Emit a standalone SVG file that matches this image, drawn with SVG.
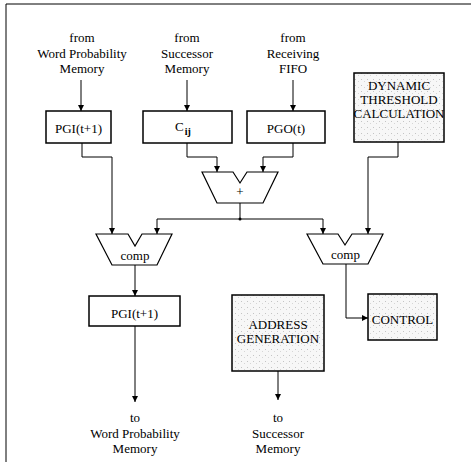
<svg xmlns="http://www.w3.org/2000/svg" width="471" height="462" viewBox="0 0 471 462">
<style>
text{font-family:"Liberation Serif","Times New Roman",serif;font-size:13px;fill:#000;text-anchor:middle}
.box{fill:#fff;stroke:#000;stroke-width:1.5}
.shade{fill:url(#dots);stroke:#000;stroke-width:1.5}
.op{fill:#fff;stroke:#000;stroke-width:1.2;stroke-linejoin:miter}
.ln{fill:none;stroke:#000;stroke-width:1}
.ar{marker-end:url(#ah)}
</style>
<defs>
<marker id="ah" markerUnits="userSpaceOnUse" markerWidth="6" markerHeight="6" refX="6" refY="3" orient="auto">
<path d="M0,0 L6,3 L0,6 z" fill="#000"/>
</marker>
<pattern id="dots" width="6" height="6" patternUnits="userSpaceOnUse">
<rect width="6" height="6" fill="#f7f7f7"/>
<rect x="1" y="1" width="1" height="1" fill="#c4c4c4"/>
<rect x="4" y="3" width="1" height="1" fill="#d6d6d6"/>
</pattern>
</defs>
<rect width="471" height="462" fill="#fff"/>
<g id="frame"><path class="ln" d="M6,462 V4 H471" stroke-width="1.5"/></g>

<g id="src-wpm"><text x="82" y="42">from</text><text x="82" y="57.5">Word Probability</text><text x="82" y="73">Memory</text></g>
<g id="src-sm"><text x="187" y="42">from</text><text x="187" y="57.5">Successor</text><text x="187" y="73">Memory</text></g>
<g id="src-fifo"><text x="293" y="42">from</text><text x="293" y="57.5">Receiving</text><text x="293" y="73">FIFO</text></g>

<g id="pgi-top"><rect class="box" x="46" y="111" width="65" height="32"/><text x="78.5" y="133">PGI(t+1)</text></g>
<g id="cij"><rect class="box" x="143" y="111" width="89" height="32"/><text x="183" y="131" font-size="14">C<tspan font-size="10" font-weight="bold" dy="4" dx="1">ij</tspan></text></g>
<g id="pgo"><rect class="box" x="247" y="111" width="78" height="32"/><text x="286" y="133">PGO(t)</text></g>
<g id="dyn"><rect class="shade" x="354" y="73" width="90" height="69"/><text x="399" y="90">DYNAMIC</text><text x="399" y="104">THRESHOLD</text><text x="399" y="118">CALCULATION</text></g>

<g id="adder"><path class="op" d="M202,172 H233 L240,183 L247,172 H278 L263,203 H217 Z"/><text x="240" y="196" font-size="14">+</text></g>
<g id="comp-left"><path class="op" d="M96,234 H128 L135,246 L142,234 H172 L157,265 H112 Z"/><text x="135" y="260">comp</text></g>
<g id="comp-right"><path class="op" d="M307,234 H338 L345,245 L352,234 H383 L368,264 H323 Z"/><text x="345.5" y="259">comp</text></g>

<g id="pgi-bot"><rect class="box" x="89" y="296" width="91" height="30"/><text x="134.5" y="318">PGI(t+1)</text></g>
<g id="addr"><rect class="shade" x="232" y="295" width="92" height="76"/><text x="278" y="329">ADDRESS</text><text x="278" y="343">GENERATION</text></g>
<g id="control"><rect class="shade" x="368" y="294" width="69" height="46"/><text x="402.5" y="324">CONTROL</text></g>

<g id="dst-wpm"><text x="135" y="422">to</text><text x="135" y="438">Word Probability</text><text x="135" y="453">Memory</text></g>
<g id="dst-sm"><text x="278" y="422">to</text><text x="278" y="438">Successor</text><text x="278" y="453">Memory</text></g>

<g id="connectors">
<path class="ln ar" d="M81,80 V111"/>
<path class="ln ar" d="M187,80 V111"/>
<path class="ln ar" d="M293,80 V111"/>
<path class="ln ar" d="M82,143 V157 H112 V234"/>
<path class="ln ar" d="M187,143 V157 H217 V172"/>
<path class="ln ar" d="M293,143 V157 H263 V172"/>
<path class="ln ar" d="M398,142 V157 H368 V234"/>
<path class="ln" d="M240,203 V219"/>
<path class="ln ar" d="M240,219 H157 V234"/>
<path class="ln ar" d="M240,219 H323 V234"/>
<circle cx="240" cy="219" r="1.5" fill="#000"/>
<path class="ln ar" d="M135,265 V296"/>
<path class="ln ar" d="M135,326 V402"/>
<path class="ln ar" d="M278,371 V400"/>
<path class="ln ar" d="M346,264 V318 H368"/>
</g>
</svg>
